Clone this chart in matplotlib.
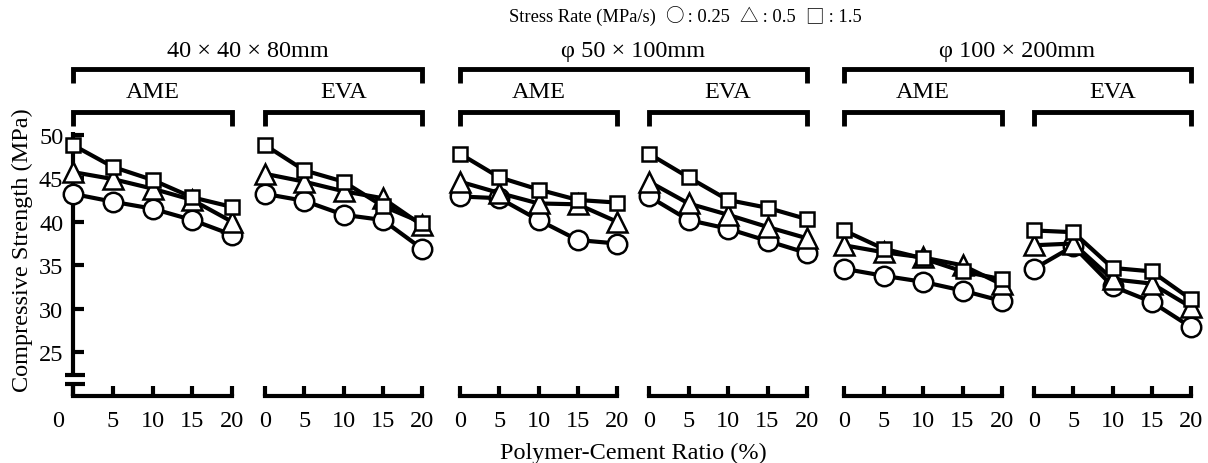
import matplotlib
matplotlib.use('Agg')
import matplotlib.pyplot as plt
import matplotlib.transforms as mtransforms
from matplotlib.lines import Line2D

plt.rcParams['font.family'] = ['Liberation Serif', 'DejaVu Sans']

# ---------------- data ----------------
ratio = [0, 5, 10, 15, 20]
xtick_labels = ['0', '5', '10', '15', '20']
yticks = [25, 30, 35, 40, 45, 50]
size_labels = ['40 × 40 × 80mm', 'φ 50 × 100mm', 'φ 100 × 200mm']
polymer_labels = ['AME', 'EVA']
rate_labels = ['0.25', '0.5', '1.5']
rate_symbols = ['○', '△', '□']

# 40x40x80mm
ame40_r025 = [43.2, 42.3, 41.5, 40.2, 38.5]
ame40_r05 = [45.7, 44.9, 43.8, 42.5, 40.0]
ame40_r15 = [48.8, 46.3, 44.8, 42.8, 41.7]
eva40_r025 = [43.2, 42.4, 40.8, 40.2, 36.9]
eva40_r05 = [45.5, 44.6, 43.5, 42.7, 39.6]
eva40_r15 = [48.8, 45.9, 44.6, 41.8, 39.9]
# phi50x100mm
ame50_r025 = [42.9, 42.7, 40.2, 37.9, 37.5]
ame50_r05 = [44.6, 43.3, 42.1, 42.0, 40.0]
ame50_r15 = [47.8, 45.1, 43.7, 42.5, 42.2]
eva50_r025 = [42.9, 40.2, 39.2, 37.8, 36.4]
eva50_r05 = [44.6, 42.1, 40.8, 39.4, 38.1]
eva50_r15 = [47.8, 45.1, 42.5, 41.6, 40.3]
# phi100x200mm
ame100_r025 = [34.6, 33.8, 33.1, 32.1, 30.9]
ame100_r05 = [37.3, 36.5, 35.9, 35.0, 32.8]
ame100_r15 = [39.0, 36.9, 35.8, 34.3, 33.4]
eva100_r025 = [34.6, 37.2, 32.6, 30.8, 27.9]
eva100_r05 = [37.3, 37.5, 33.4, 32.9, 30.2]
eva100_r15 = [39.0, 38.8, 34.7, 34.3, 31.1]

panels = [
    (ame40_r025, ame40_r05, ame40_r15),
    (eva40_r025, eva40_r05, eva40_r15),
    (ame50_r025, ame50_r05, ame50_r15),
    (eva50_r025, eva50_r05, eva50_r15),
    (ame100_r025, ame100_r05, ame100_r15),
    (eva100_r025, eva100_r05, eva100_r15),
]

# ---------------- layout ----------------
W, H = 1208, 464
fig = plt.figure(figsize=(W / 100, H / 100), dpi=100)

panel_px = [(73, 232), (265, 422), (460, 617), (649, 807), (844, 1002), (1034, 1191)]
y_top_px, y_bot_px = 133, 397
YMIN, YMAX = 20, 50.3
FS = 17.5

def fx(px):
    return px / W

def fy(py):
    return 1 - py / H

styles = [('o', 14), ('^', 15), ('s', 10.5)]

axes = []
for i, ((x0, x1), series) in enumerate(zip(panel_px, panels)):
    ax = fig.add_axes([fx(x0), fy(y_bot_px), (x1 - x0) / W, (y_bot_px - y_top_px) / H])
    axes.append(ax)
    ax.set_xlim(0, 20)
    ax.set_ylim(YMIN, YMAX)
    for sp in ['top', 'right', 'left']:
        ax.spines[sp].set_visible(False)
    ax.spines['bottom'].set_linewidth(3)
    ax.set_xticks(ratio)
    ax.set_xticklabels(xtick_labels)
    ax.tick_params(axis='x', direction='in', length=7, width=3, pad=10, labelsize=FS)
    if i == 0:
        ax.set_yticks(yticks)
        ax.set_yticklabels([str(v) for v in yticks])
        ax.tick_params(axis='y', direction='in', length=8, width=3, pad=7, labelsize=FS)
        # shift "0" label left
        lab0 = ax.get_xticklabels()[0]
        lab0.set_transform(lab0.get_transform() +
                           mtransforms.ScaledTranslation(-15 / 100, 0, fig.dpi_scale_trans))
        # y axis with break
        tr = mtransforms.blended_transform_factory(ax.transAxes, ax.transData)
        ax.add_line(Line2D([0, 0], [YMIN, 21.4], transform=tr, color='black', lw=3,
                           clip_on=False, solid_capstyle='butt'))
        ax.add_line(Line2D([0, 0], [22.4, YMAX], transform=tr, color='black', lw=3,
                           clip_on=False, solid_capstyle='butt'))
        w = x1 - x0
        for yb in (21.4, 22.4):
            ax.add_line(Line2D([-8 / w, 12 / w], [yb, yb], transform=tr, color='black',
                               lw=3, clip_on=False, solid_capstyle='butt'))
    else:
        ax.set_yticks([])
    for k, (vals, (mk, ms)) in enumerate(zip(series, styles)):
        ax.plot(ratio, vals, color='black', lw=3, marker=mk, ms=ms, mfc='white',
                mec='black', mew=1.8, clip_on=False, zorder=3 + k)

# ---------------- header brackets ----------------
def bracket(x0, x1, ytop, ybot):
    fig.add_artist(Line2D([fx(x0), fx(x0), fx(x1), fx(x1)],
                          [fy(ybot), fy(ytop), fy(ytop), fy(ybot)],
                          transform=fig.transFigure, color='black', lw=3.5,
                          solid_joinstyle='miter', solid_capstyle='butt'))

for g in range(3):
    xa = panel_px[2 * g][0]
    xb = panel_px[2 * g + 1][1]
    bracket(xa, xb, 70, 84)
    fig.text(fx((xa + xb) / 2), fy(52), size_labels[g], ha='center', va='center', fontsize=FS)
    for p in range(2):
        pa, pb = panel_px[2 * g + p]
        bracket(pa, pb, 113, 127)
        fig.text(fx((pa + pb) / 2), fy(93), polymer_labels[p], ha='center', va='center',
                 fontsize=FS)

# ---------------- legend line (pieces placed side by side) ----------------
serif = ['Liberation Serif', 'DejaVu Sans']
cjk = ['Noto Sans CJK JP', 'DejaVu Sans']
pieces = [('Stress Rate (MPa/s)  ', serif)]
for sym, lab in zip(rate_symbols, rate_labels):
    pieces.append((sym, cjk))
    pieces.append((' : ' + lab + '  ', serif))
pieces[-1] = (pieces[-1][0].rstrip(), serif)

LEG_FS = 13.3
renderer = fig.canvas.get_renderer()
tmp = []
for s, fam in pieces:
    t = fig.text(0, fy(17), s, fontsize=LEG_FS, family=fam, va='center', ha='left')
    tmp.append(t)
widths = [t.get_window_extent(renderer).width for t in tmp]
total = sum(widths)
x = 685 - total / 2
for t, wdt in zip(tmp, widths):
    t.set_x(fx(x))
    x += wdt

fig.text(fx(22), fy(250), 'Compressive Strength (MPa)', rotation=90, ha='center',
         va='center', fontsize=FS)
fig.text(fx(633), fy(453), 'Polymer-Cement Ratio (%)', ha='center', va='center', fontsize=FS)

fig.savefig('out.png', dpi=100)
